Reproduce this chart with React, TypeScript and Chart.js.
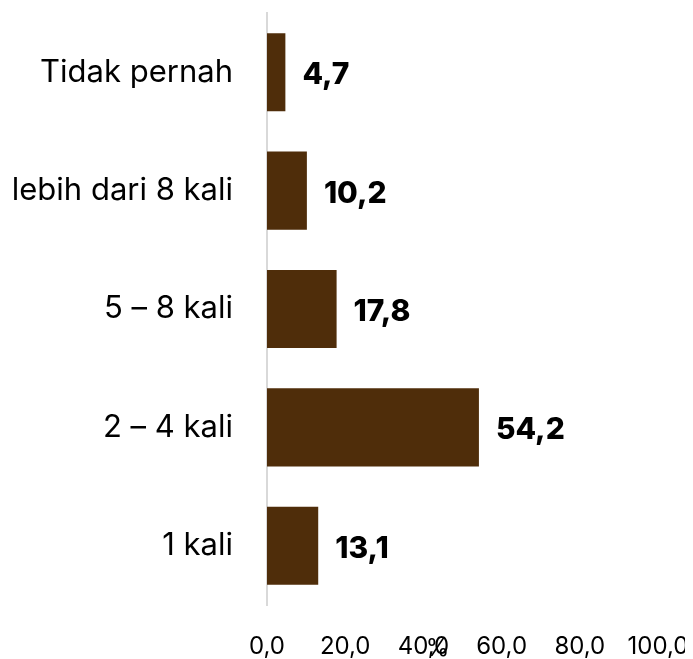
import React, { useEffect, useRef } from "react";
import { Chart, registerables } from "chart.js";

Chart.register(...registerables);

const categories = ["Tidak pernah", "lebih dari 8 kali", "5 – 8 kali", "2 – 4 kali", "1 kali"];
const values = [4.7, 10.2, 17.8, 54.2, 13.1];
const xTicks = [0, 20, 40, 60, 80, 100];
const axisTitle = "%";

const BAR_COLOR = "#4F2D0A";
const FONT = "Inter, 'DejaVu Sans', sans-serif";

const fmt = (v: number) => v.toFixed(1).replace(".", ",");

const valueLabels = {
  id: "valueLabels",
  afterDatasetsDraw(chart: any) {
    const ctx = chart.ctx;
    const meta = chart.getDatasetMeta(0);
    ctx.save();
    ctx.font = `800 30px ${FONT}`;
    ctx.fillStyle = "#000";
    ctx.textAlign = "left";
    ctx.textBaseline = "middle";
    meta.data.forEach((bar: any, i: number) => {
      ctx.fillText(fmt(values[i]), bar.x + 17, bar.y + 3);
    });
    ctx.restore();
  },
};

const percentTitle = {
  id: "percentTitle",
  afterDraw(chart: any) {
    const ctx = chart.ctx;
    const xs = chart.scales.x;
    ctx.save();
    ctx.font = `24px ${FONT}`;
    ctx.fillStyle = "#000";
    ctx.textAlign = "center";
    ctx.textBaseline = "middle";
    const x = xs.left + (xs.right - xs.left) * 0.436;
    ctx.fillText(axisTitle, x, chart.height - 10);
    ctx.restore();
  },
};

export default function App() {
  const ref = useRef<HTMLCanvasElement | null>(null);
  useEffect(() => {
    if (!ref.current) return;
    const chart = new Chart(ref.current, {
      type: "bar",
      data: {
        labels: categories,
        datasets: [
          {
            data: values,
            backgroundColor: BAR_COLOR,
            borderWidth: 0,
            categoryPercentage: 1,
            barPercentage: 0.66,
          },
        ],
      },
      options: {
        indexAxis: "y",
        animation: false,
        responsive: true,
        maintainAspectRatio: false,
        layout: { padding: { top: 5, left: 0, right: 35, bottom: 0 } },
        plugins: {
          legend: { display: false },
          tooltip: { enabled: false },
        },
        scales: {
          x: {
            min: 0,
            max: 100,
            afterBuildTicks: (scale: any) => {
              scale.ticks = xTicks.map((v) => ({ value: v }));
            },
            afterFit: (scale: any) => {
              scale.height = 54;
              scale.paddingLeft = 0;
              scale.paddingRight = 0;
            },
            grid: { display: false, drawTicks: false },
            border: { display: false },
            ticks: {
              padding: 27,
              color: "#000",
              font: { family: FONT, size: 24 },
              callback: (v: any) => fmt(Number(v)),
              maxRotation: 0,
            },
          },
          y: {
            afterFit: (scale: any) => {
              scale.width = 259;
              scale.paddingTop = 0;
              scale.paddingBottom = 0;
            },
            grid: { display: false, drawTicks: false },
            border: { display: true, color: "#D9D9D9", width: 2 },
            ticks: {
              padding: 34,
              color: "#000",
              font: { family: FONT, size: 31 },
            },
          },
        },
      },
      plugins: [valueLabels, percentTitle],
    });
    return () => chart.destroy();
  }, []);
  return (
    <div style={{ position: "relative", height: 651, width: 685 }}>
      <canvas ref={ref} />
    </div>
  );
}
